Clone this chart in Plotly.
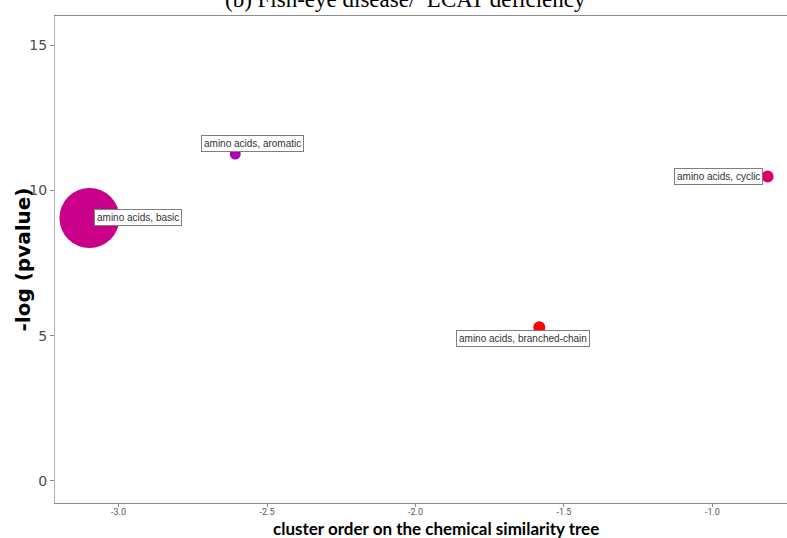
import plotly.graph_objects as go

# ---- data ----
categories = ["amino acids, basic", "amino acids, aromatic", "amino acids, cyclic", "amino acids, branched-chain"]
cluster_order = [-3.098, -2.607, -0.814, -1.583]
neg_log_p = [9.05, 11.25, 10.48, 5.29]
marker_sizes = [60, 11, 12, 12]
marker_colors = ["#C9008A", "#AE00B5", "#DD0068", "#FF0000"]
x_ticks = [-3.0, -2.5, -2.0, -1.5, -1.0]
x_tick_labels = ["-3.0", "-2.5", "-2.0", "-1.5", "-1.0"]
y_ticks = [0, 5, 10, 15]
y_tick_labels = ["0", "5", "10", "15"]

# label placement: (xanchor, xshift, yshift)
label_place = [("left", 5, 0), ("center", 17, 11), ("right", -5, 0), ("center", -16, -11)]

fig = go.Figure()
fig.add_trace(go.Scatter(
    x=cluster_order, y=neg_log_p, mode="markers",
    marker=dict(size=marker_sizes, color=marker_colors, opacity=1, line=dict(width=0)),
    hoverinfo="text", text=categories, showlegend=False,
))

for cat, xv, yv, (xa, xs, ys) in zip(categories, cluster_order, neg_log_p, label_place):
    fig.add_annotation(
        x=xv, y=yv, xref="x", yref="y", text=cat, showarrow=False,
        xanchor=xa, yanchor="middle", xshift=xs, yshift=ys,
        font=dict(family="Liberation Sans, Arial, sans-serif", size=10, color="#333333"),
        bgcolor="white", bordercolor="#7f7f7f", borderwidth=1, borderpad=2,
    )

# title (partially cut off at top)
fig.add_annotation(
    x=0.470, y=1, xref="paper", yref="paper", xanchor="center", yanchor="bottom",
    yshift=2, showarrow=False,
    text="(b) Fish-eye disease/  LCAT deficiency",
    font=dict(family="Liberation Serif, DejaVu Serif, serif", size=23, color="#000000"),
)

# axis titles
fig.add_annotation(
    x=0.511, y=0, xref="paper", yref="paper", xanchor="center", yanchor="middle",
    yshift=-25, showarrow=False,
    text="<b>cluster order on the chemical similarity tree</b>",
    font=dict(family="Lato, Open Sans, sans-serif", size=17, color="#000000"),
)
fig.add_annotation(
    x=0, y=0.5, xref="paper", yref="paper", xanchor="center", yanchor="middle",
    xshift=-33, showarrow=False, textangle=-90,
    text="<b>-log (pvalue)</b>",
    font=dict(family="DejaVu Sans, sans-serif", size=20, color="#000000"),
)

fig.update_layout(
    width=800, height=538,
    margin=dict(l=55, r=0, t=16, b=35, autoexpand=False),
    paper_bgcolor="white", plot_bgcolor="white",
    xaxis=dict(
        range=[-3.214, -0.705], tickvals=x_ticks, ticktext=x_tick_labels,
        automargin=False,
        showgrid=False, zeroline=False, showline=True, linecolor="#8c8c8c", linewidth=1,
        mirror=True, ticks="outside", ticklen=3, tickcolor="#8c8c8c",
        ticklabelstandoff=-3,
        tickfont=dict(family="Liberation Sans Narrow, Roboto, sans-serif", size=9, color="#555555"),
    ),
    yaxis=dict(
        range=[-0.76, 16.0], tickvals=y_ticks, ticktext=y_tick_labels,
        automargin=False,
        showgrid=False, zeroline=False, showline=True, linecolor="#b3b3b3", linewidth=1,
        mirror=False, ticks="outside", ticklen=4, tickcolor="#8c8c8c",
        tickfont=dict(family="DejaVu Sans, sans-serif", size=14, color="#4d4d4d"),
    ),
)

fig.write_html(
    "out.html",
    config={"displayModeBar": False},
    post_script="document.body.style.margin='0';document.body.style.overflow='hidden';",
)
